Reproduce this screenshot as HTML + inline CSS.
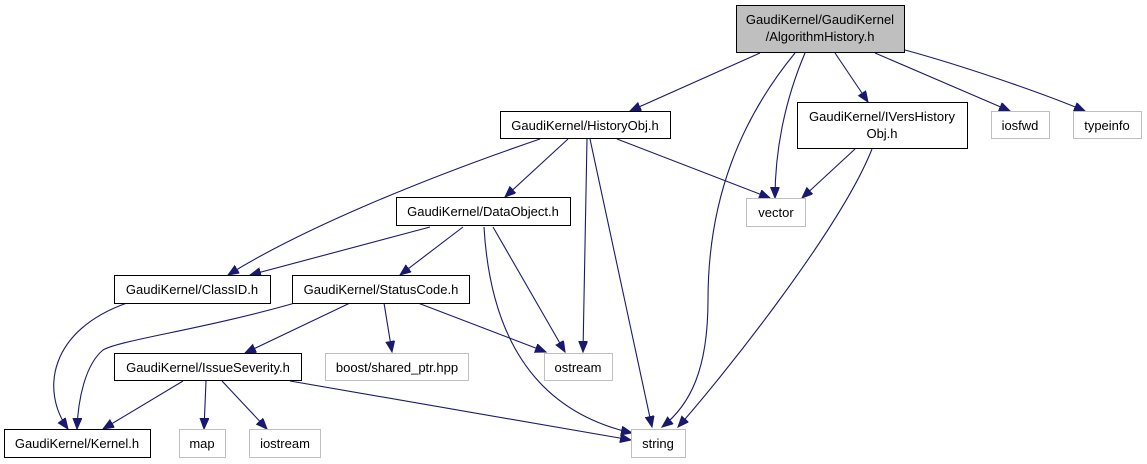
<!DOCTYPE html>
<html><head><meta charset="utf-8"><style>
body{margin:0;background:#fff;}
svg{display:block;}
text{font-family:"Liberation Sans",sans-serif;font-size:13px;fill:#000;}
</style></head><body>
<svg width="1147" height="464" viewBox="0 0 1147 464" xmlns="http://www.w3.org/2000/svg">
<defs><marker id="a" markerUnits="userSpaceOnUse" markerWidth="13" markerHeight="11" refX="11" refY="4.5" orient="auto"><path d="M0,0 L11,4.5 L0,9 Z" fill="#191970" stroke="#191970"/></marker></defs>
<g fill="none" stroke="#191970" stroke-width="1.1" marker-end="url(#a)">
<path d="M760,53 L630,111"/>
<path d="M795,53 C740,120 708,200 708,300 C708,370 690,405 662,427"/>
<path d="M805,53 C785,100 775,150 775,198"/>
<path d="M835,53 L868,102"/>
<path d="M875,53 L1010,111"/>
<path d="M905,50 C960,65 1040,92 1085,111"/>
<path d="M540,139 C420,180 300,230 228,275"/>
<path d="M568,139 L505,197"/>
<path d="M587,139 L583,352"/>
<path d="M590,139 L652,427"/>
<path d="M617,139 L770,198"/>
<path d="M855,149 L802,198"/>
<path d="M872,149 C840,230 720,380 678,427"/>
<path d="M430,227 L250,275"/>
<path d="M463,227 L400,275"/>
<path d="M493,227 L565,352"/>
<path d="M484,227 C490,330 530,410 632,433"/>
<path d="M127,303 C50,330 40,390 68,429"/>
<path d="M295,303 C200,330 120,340 103,350 C85,365 78,400 77,429"/>
<path d="M350,303 L245,353"/>
<path d="M384,303 L392,352"/>
<path d="M418,303 L546,352"/>
<path d="M183,381 L103,429"/>
<path d="M206,381 L204,429"/>
<path d="M222,381 L267,429"/>
<path d="M290,381 L631,440"/>
</g>
<g stroke-width="1">
<rect x="736.5" y="5.5" width="168" height="47" fill="#bfbfbf" stroke="#000"/>
<rect x="500.5" y="111.5" width="170" height="27" fill="#fff" stroke="#000"/>
<rect x="797.5" y="102.5" width="170" height="46" fill="#fff" stroke="#000"/>
<rect x="991.5" y="111.5" width="58" height="27" fill="#fff" stroke="#bfbfbf"/>
<rect x="1073.5" y="111.5" width="68" height="27" fill="#fff" stroke="#bfbfbf"/>
<rect x="746.5" y="198.5" width="59" height="28" fill="#fff" stroke="#bfbfbf"/>
<rect x="396.5" y="197.5" width="174" height="28" fill="#fff" stroke="#000"/>
<rect x="114.5" y="275.5" width="156" height="28" fill="#fff" stroke="#000"/>
<rect x="292.5" y="275.5" width="177" height="28" fill="#fff" stroke="#000"/>
<rect x="114.5" y="353.5" width="187" height="27" fill="#fff" stroke="#000"/>
<rect x="325.5" y="353.5" width="143" height="27" fill="#fff" stroke="#bfbfbf"/>
<rect x="544.5" y="353.5" width="68" height="27" fill="#fff" stroke="#bfbfbf"/>
<rect x="4.5" y="429.5" width="146" height="28" fill="#fff" stroke="#000"/>
<rect x="179.5" y="429.5" width="46" height="28" fill="#fff" stroke="#bfbfbf"/>
<rect x="249.5" y="429.5" width="71" height="28" fill="#fff" stroke="#bfbfbf"/>
<rect x="631.5" y="429.5" width="54" height="28" fill="#fff" stroke="#bfbfbf"/>
</g>
<g text-anchor="middle">
<text x="820" y="24">GaudiKernel/GaudiKernel</text>
<text x="820" y="41">/AlgorithmHistory.h</text>
<text x="585" y="130">GaudiKernel/HistoryObj.h</text>
<text x="882" y="121">GaudiKernel/IVersHistory</text>
<text x="882" y="138">Obj.h</text>
<text x="1020" y="130">iosfwd</text>
<text x="1107" y="130">typeinfo</text>
<text x="776" y="217">vector</text>
<text x="483" y="216">GaudiKernel/DataObject.h</text>
<text x="192" y="294">GaudiKernel/ClassID.h</text>
<text x="381" y="294">GaudiKernel/StatusCode.h</text>
<text x="208" y="372">GaudiKernel/IssueSeverity.h</text>
<text x="397" y="372">boost/shared_ptr.hpp</text>
<text x="578" y="372">ostream</text>
<text x="77" y="448">GaudiKernel/Kernel.h</text>
<text x="202" y="448">map</text>
<text x="285" y="448">iostream</text>
<text x="658" y="448">string</text>
</g>
</svg>
</body></html>
